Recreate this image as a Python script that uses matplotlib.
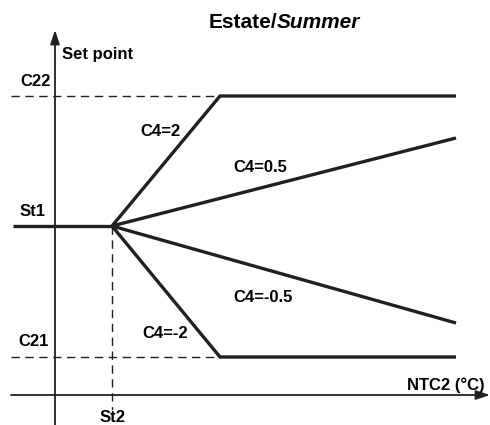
import matplotlib.pyplot as plt

plt.rcParams['font.family'] = ['Liberation Sans', 'DejaVu Sans']
plt.rcParams['font.weight'] = 'bold'

# punti caratteristici (unita arbitrarie)
St2 = 5.7
St1 = 16.9
C22 = 29.9
C21 = 3.8
x_sat = 16.5     # fine rampa C4=2 / C4=-2
x_end = 40.1     # fine linee a destra
x_start = -4.2   # inizio tratto St1

# curve del set point
c4_labels = ['C4=2', 'C4=0.5', 'C4=-0.5', 'C4=-2']
c4_x = [[St2, x_sat, x_end], [St2, x_end], [St2, x_end], [St2, x_sat, x_end]]
c4_y = [[St1, C22, C22], [St1, 25.7], [St1, 7.2], [St1, C21, C21]]

col = '#231f20'

fig = plt.figure(figsize=(4.9, 4.25), dpi=100)
ax = fig.add_axes([0, 0, 1, 1])
ax.set_xlim(-5.5, 43.5)
ax.set_ylim(-3.0, 39.5)
ax.axis('off')

# assi con freccia
ax.annotate('', xy=(43.5, 0), xytext=(-4.4, 0),
            arrowprops=dict(arrowstyle='-|>,head_length=0.6,head_width=0.2',
                            lw=1.3, color=col, mutation_scale=14, shrinkA=0, shrinkB=0))
ax.annotate('', xy=(0, 36.5), xytext=(0, -3.0),
            arrowprops=dict(arrowstyle='-|>,head_length=0.6,head_width=0.2',
                            lw=1.3, color=col, mutation_scale=14, shrinkA=0, shrinkB=0))

# linee tratteggiate di riferimento
ax.plot([-4.4, x_sat], [C22, C22], ls=(0, (6, 4)), lw=1.0, color=col)
ax.plot([-4.4, x_sat], [C21, C21], ls=(0, (6, 4)), lw=1.0, color=col)
ax.plot([St2, St2], [St1, -3.0], ls=(0, (6, 4)), lw=1.0, color=col)

# tratto costante St1
ax.plot([x_start, St2], [St1, St1], lw=2.4, color=col, solid_capstyle='butt')

for xs, ys in zip(c4_x, c4_y):
    ax.plot(xs, ys, lw=2.4, color=col, solid_capstyle='butt', solid_joinstyle='miter')

# etichette curve
lab_pos = [(10.5, 26.4), (20.5, 22.8), (20.8, 9.7), (11.0, 6.2)]
for lab, (lx, ly) in zip(c4_labels, lab_pos):
    ax.text(lx, ly, lab, fontsize=12, ha='center', va='center')

# etichette assi
ax.text(-1.9, 31.3, 'C22', fontsize=12, ha='center', va='center')
ax.text(-2.2, 18.3, 'St1', fontsize=12, ha='center', va='center')
ax.text(-2.1, 5.3, 'C21', fontsize=12, ha='center', va='center')
ax.text(St2 + 0.1, -2.3, 'St2', fontsize=12, ha='center', va='center',
        bbox=dict(fc='white', ec='none', pad=0.5))
ax.text(0.7, 34.1, 'Set point', fontsize=12, ha='left', va='center')
ax.text(43.0, 1.0, 'NTC2 (°C)', fontsize=12, ha='right', va='center')

# titolo
ax.text(22.2, 37.3, 'Estate/', fontsize=15, ha='right', va='center')
ax.text(22.2, 37.3, 'Summer', fontsize=15, ha='left', va='center', style='italic')

fig.savefig('out.png', dpi=100)
